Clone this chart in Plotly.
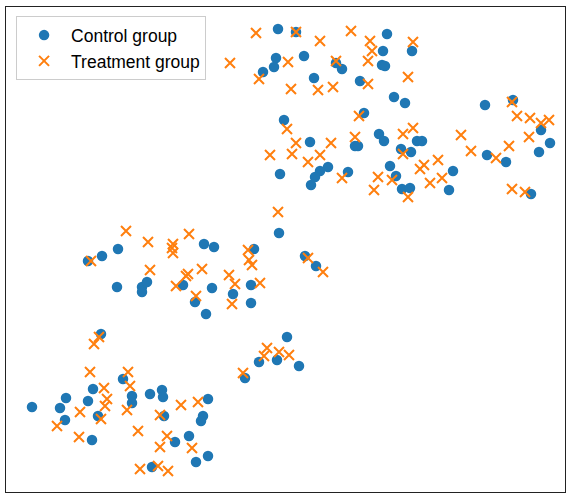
import plotly.graph_objects as go

# 2-D embedding coordinates of each sample (arbitrary units)
control_x = [278, 296, 387, 276, 274, 263, 304, 314, 336, 342, 383, 382, 385, 412, 360,
             394, 405, 284, 364, 310, 379, 384, 355, 358, 401, 411, 417, 422, 390, 328,
             320, 315, 311, 280, 348, 396, 402, 410, 453, 449,
             485, 513, 541, 550, 539, 487, 506, 531,
             88, 102, 118, 204, 214, 117, 142, 147, 142, 183, 195, 206, 212, 279, 254,
             305, 316, 251, 233, 251,
             287, 259, 277, 299, 245,
             101, 32, 66, 60, 65, 88, 93, 98, 92, 123, 132, 132, 150, 162, 163, 164,
             208, 203, 201, 175, 189, 196, 208, 152]
control_y = [471, 468, 466, 442, 433, 428, 444, 422, 437, 431, 449, 435, 434, 449, 419,
             403, 397, 380, 387, 358, 366, 359, 354, 354, 351, 348, 359, 359, 334, 333,
             329, 323, 315, 326, 328, 324, 311, 312, 329, 310,
             395, 400, 370, 357, 348, 345, 338, 306,
             239, 244, 251, 256, 253, 213, 213, 218, 208, 215, 198, 186, 212, 267, 251,
             244, 234, 215, 206, 197,
             163, 138, 140, 134, 122,
             166, 93, 102, 92, 80, 99, 111, 84, 60, 121, 104, 97, 106, 110, 103, 84,
             101, 84, 79, 58, 64, 38, 44, 33]

treatment_x = [256, 296, 351, 320, 370, 372, 368, 413, 230, 288, 336, 259, 291, 318, 333,
               368, 408, 359, 287, 413, 403, 355, 296, 331, 270, 292, 320, 308, 403, 424,
               420, 438, 342, 378, 374, 392, 408, 430, 442, 278,
               512, 517, 530, 541, 549, 529, 461, 471, 496, 509, 512, 525,
               91, 126, 148, 173, 172, 173, 189, 150, 188, 186, 202, 176, 196, 248, 249,
               252, 308, 323, 229, 235, 260, 232,
               267, 264, 279, 289, 243,
               99, 94, 90, 104, 107, 105, 101, 80, 57, 79, 128, 130, 127, 138, 160, 181,
               198, 167, 160, 192, 140, 158, 168]
treatment_y = [467, 468, 469, 459, 459, 449, 439, 458, 437, 438, 439, 421, 411, 410, 413,
               416, 423, 384, 371, 372, 366, 363, 357, 357, 345, 346, 345, 338, 346, 335,
               331, 340, 322, 323, 310, 320, 303, 317, 322, 288,
               398, 384, 382, 377, 380, 363, 365, 349, 342, 354, 311, 308,
               239, 269, 258, 256, 252, 247, 266, 230, 226, 224, 231, 214, 204, 250, 240,
               235, 242, 228, 225, 216, 217, 196,
               152, 144, 148, 145, 127,
               163, 156, 128, 112, 101, 94, 81, 88, 74, 63, 128, 114, 90, 69, 85, 95,
               98, 64, 53, 52, 31, 34, 29]

group_names = ["Control group", "Treatment group"]

fig = go.Figure()
fig.add_trace(go.Scatter(
    x=control_x, y=control_y, mode="markers", name=group_names[0],
    marker=dict(symbol="circle", size=10.5, color="#1f77b4", line=dict(width=0)),
))
fig.add_trace(go.Scatter(
    x=treatment_x, y=treatment_y, mode="markers", name=group_names[1],
    marker=dict(symbol="x-thin", size=10, color="#ff7f0e",
                line=dict(width=2, color="#ff7f0e")),
))

axis_common = dict(showticklabels=False, ticks="", showgrid=False, zeroline=False,
                   showline=True, linecolor="#222222", linewidth=1.2, mirror=True)

fig.update_layout(
    width=570, height=494,
    margin=dict(l=6, r=5, t=7, b=2),
    paper_bgcolor="white", plot_bgcolor="white",
    xaxis=dict(range=[6, 565], **axis_common),
    yaxis=dict(range=[8, 493], **axis_common),
    font=dict(family="Liberation Sans, Arial, sans-serif", size=17.5, color="black"),
    legend=dict(x=0.018, y=0.981, xanchor="left", yanchor="top",
                bgcolor="rgba(255,255,255,0.85)", bordercolor="#cccccc", borderwidth=1,
                itemwidth=44, font=dict(size=17.5)),
    showlegend=True,
)

fig.write_html("out.html")
